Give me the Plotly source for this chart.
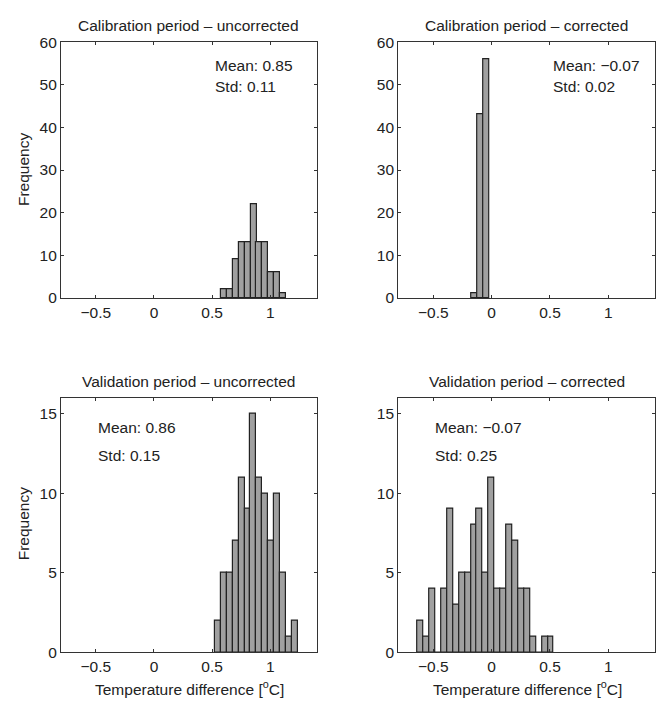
import plotly.graph_objects as go

W, H = 659, 707

# ---- data (bin centres and counts) ----
cal_unc_x = [0.603, 0.654, 0.705, 0.755, 0.806, 0.857, 0.907, 0.958, 1.009, 1.059, 1.110]
cal_unc_y = [2, 2, 9, 13, 13, 22, 13, 13, 6, 6, 1]

cal_cor_x = [-0.149, -0.098, -0.048]
cal_cor_y = [1, 43, 56]

val_unc_x = [0.551, 0.602, 0.653, 0.703, 0.754, 0.805, 0.855, 0.906, 0.957, 1.008,
             1.058, 1.109, 1.160, 1.210]
val_unc_y = [2, 5, 5, 7, 11, 9, 15, 11, 10, 7, 10, 5, 1, 2]

val_cor_x = [-0.609, -0.558, -0.507, -0.457, -0.406, -0.355, -0.305, -0.254, -0.203,
             -0.152, -0.102, -0.051, 0.000, 0.051, 0.101, 0.152, 0.203, 0.254, 0.304,
             0.355, 0.406, 0.456, 0.507]
val_cor_y = [2, 1, 4, 0, 4, 9, 3, 5, 5, 8, 9, 5, 11, 4, 4, 8, 7, 4, 4, 1, 0, 1, 1]

bin_width = 0.0507

titles = ["Calibration period – uncorrected", "Calibration period – corrected",
          "Validation period – uncorrected", "Validation period – corrected"]
means = ["Mean: 0.85", "Mean: −0.07", "Mean: 0.86", "Mean: −0.07"]
stds = ["Std: 0.11", "Std: 0.02", "Std: 0.15", "Std: 0.25"]

x_ticks = [-0.5, 0, 0.5, 1]
x_ticktext = ["−0.5", "0", "0.5", "1"]
y_ticks_top = [0, 10, 20, 30, 40, 50, 60]
y_ticks_bot = [0, 5, 10, 15]

# ---- layout geometry (pixels) ----
px_x = [(61, 316.7), (398.3, 655), (61, 316.7), (398.3, 655)]
px_y = [(34, 296), (34, 296), (398.3, 659.3), (398.3, 659.3)]

FONT = "Liberation Sans, Arial, Helvetica, sans-serif"
FS = 15.5
FILL = "#a0a0a0"
EDGE = "#222222"
AX = "#333333"
TXT = "#222222"

fig = go.Figure()
datasets = [(cal_unc_x, cal_unc_y), (cal_cor_x, cal_cor_y),
            (val_unc_x, val_unc_y), (val_cor_x, val_cor_y)]
yranges = [[0, 60], [0, 60], [0, 16], [0, 16]]
yticks = [y_ticks_top, y_ticks_top, y_ticks_bot, y_ticks_bot]
text_pos = [(0.51, 54.6, 49.6), (0.51, 54.6, 49.6), (-0.5, 14.1, 12.4), (-0.5, 14.1, 12.4)]

annotations = []
for i, (xs, ys) in enumerate(datasets):
    n = i + 1
    xa = "x" if n == 1 else f"x{n}"
    ya = "y" if n == 1 else f"y{n}"
    fig.add_trace(go.Bar(x=xs, y=ys, width=bin_width, xaxis=xa, yaxis=ya,
                         marker=dict(color=FILL, line=dict(color=EDGE, width=1.2)),
                         showlegend=False, hoverinfo="x+y"))
    x0, x1 = px_x[i]
    y0, y1 = px_y[i]
    dom_x = [x0 / W, x1 / W]
    dom_y = [1 - y1 / H, 1 - y0 / H]
    xkey = "xaxis" if n == 1 else f"xaxis{n}"
    ykey = "yaxis" if n == 1 else f"yaxis{n}"
    fig.layout[xkey] = dict(domain=dom_x, anchor=ya, range=[-0.8, 1.4],
                            tickvals=x_ticks, ticktext=x_ticktext,
                            ticks="inside", ticklen=3, tickcolor=AX,
                            showline=True, linecolor=AX, linewidth=1.2, mirror="ticks",
                            showgrid=False, zeroline=False, fixedrange=True,
                            tickfont=dict(family=FONT, size=FS, color=TXT))
    fig.layout[ykey] = dict(domain=dom_y, anchor=xa, range=yranges[i],
                            tickvals=yticks[i],
                            ticks="inside", ticklen=3, tickcolor=AX,
                            showline=True, linecolor=AX, linewidth=1.2, mirror="ticks",
                            showgrid=False, zeroline=False, fixedrange=True,
                            tickfont=dict(family=FONT, size=FS, color=TXT))
    # panel title
    annotations.append(dict(text=titles[i], x=(dom_x[0] + dom_x[1]) / 2, y=1 - (y0 - 17) / H,
                            xref="paper", yref="paper", xanchor="center", yanchor="middle",
                            showarrow=False, font=dict(family=FONT, size=FS, color=TXT)))
    tx, my, sy = text_pos[i]
    annotations.append(dict(text=means[i], x=tx, y=my, xref=xa, yref=ya,
                            xanchor="left", yanchor="middle", showarrow=False,
                            font=dict(family=FONT, size=FS, color=TXT)))
    annotations.append(dict(text=stds[i], x=tx, y=sy, xref=xa, yref=ya,
                            xanchor="left", yanchor="middle", showarrow=False,
                            font=dict(family=FONT, size=FS, color=TXT)))

# axis labels
for yc in [165, 528]:
    annotations.append(dict(text="Frequency", x=23 / W, y=1 - yc / H, xref="paper", yref="paper",
                            textangle=-90, xanchor="center", yanchor="middle", showarrow=False,
                            font=dict(family=FONT, size=FS, color=TXT)))
for xc in [189, 527]:
    annotations.append(dict(text="Temperature difference [<sup>o</sup>C]", x=xc / W, y=1 - 696 / H,
                            xref="paper", yref="paper", xanchor="center", yanchor="middle",
                            showarrow=False, font=dict(family=FONT, size=FS, color=TXT)))

fig.update_layout(width=W, height=H, margin=dict(l=0, r=0, t=0, b=0),
                  paper_bgcolor="white", plot_bgcolor="white",
                  annotations=annotations, bargap=0, showlegend=False)

fig.write_html("out.html")
